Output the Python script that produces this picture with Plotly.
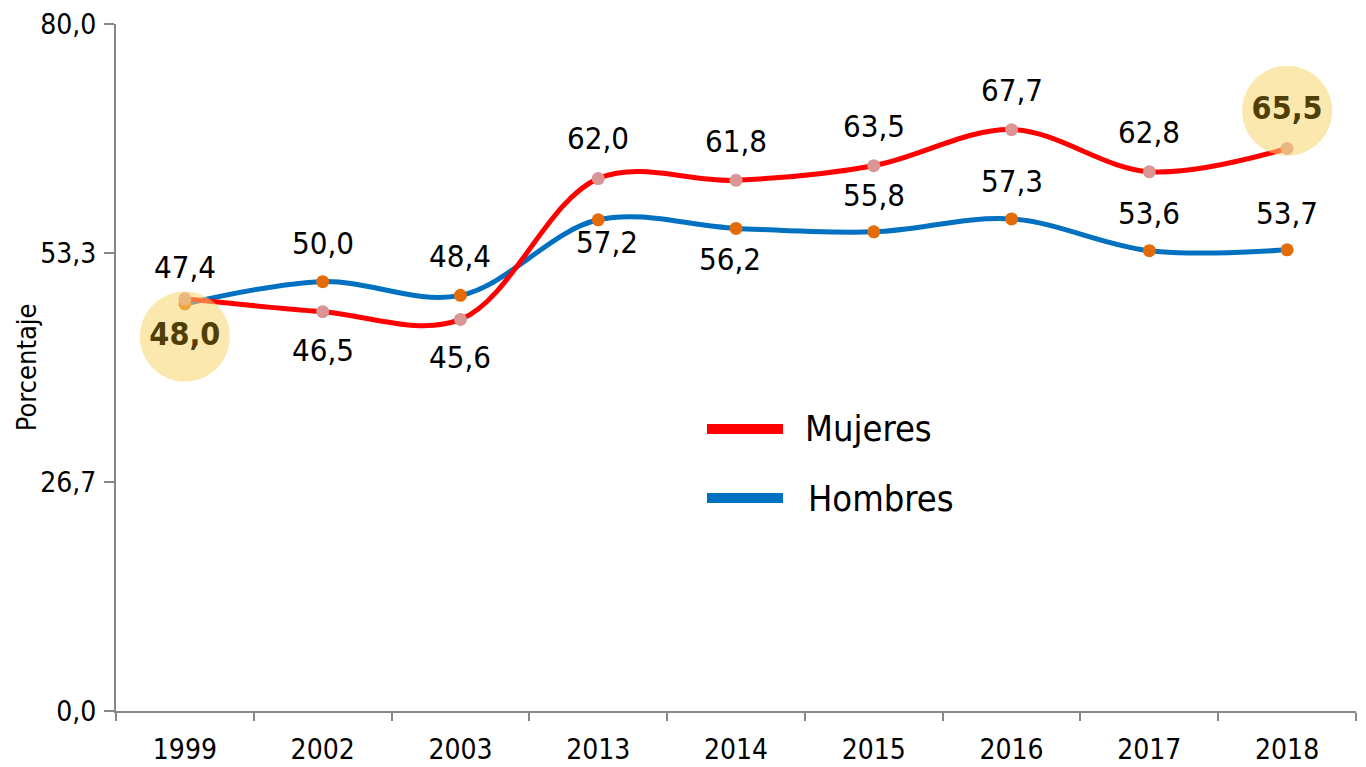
import plotly.graph_objects as go

# data
YEARS = ["1999", "2002", "2003", "2013", "2014", "2015", "2016", "2017", "2018"]
MUJERES = [48.0, 46.5, 45.6, 62.0, 61.8, 63.5, 67.7, 62.8, 65.5]
HOMBRES = [47.4, 50.0, 48.4, 57.2, 56.2, 55.8, 57.3, 53.6, 53.7]
Y_TICKS = [0.0, 80 / 3, 160 / 3, 80.0]
Y_TICK_TEXT = ["0,0", "26,7", "53,3", "80,0"]
HIGHLIGHT_IDX = [0, 8]  # Mujeres points shown in a yellow bubble

# style
RED = "#ff0000"
BLUE = "#0070c0"
RED_MARK = "#d99694"
BLUE_MARK = "#e36c09"
AXIS = "#868686"
BUBBLE = "rgba(248,214,110,0.55)"
BUBBLE_INK = "#4f3e06"
FONT = '"Liberation Sans Narrow", "Arial Narrow", "DejaVu Sans Condensed", sans-serif'

# label offsets in px (positive = above the point)
MUJ_SHIFT = [-40, -38, -38, 41, 39, 40, 40, 40, 42]
HOM_SHIFT = [37, 39, 39, -22, -31, 37, 38, 38, 37]
HOM_XSHIFT = [0, 0, 0, 9, -6, 0, 0, 0, 0]
BUBBLE_OFFSET = [-4.4, 4.4]  # bubble centre relative to the value, data units


def fmt(v):
    return f"{v:.1f}".replace(".", ",")


fig = go.Figure()

fig.add_trace(go.Scatter(
    x=YEARS, y=HOMBRES, mode="lines+markers", name="Hombres",
    line=dict(color=BLUE, width=5, shape="spline", smoothing=1),
    marker=dict(color=BLUE_MARK, size=13, line=dict(width=0)),
    showlegend=False,
))
fig.add_trace(go.Scatter(
    x=YEARS, y=MUJERES, mode="lines+markers", name="Mujeres",
    line=dict(color=RED, width=5, shape="spline", smoothing=1),
    marker=dict(color=RED_MARK, size=13, line=dict(width=0)),
    showlegend=False,
))

bx = [YEARS[i] for i in HIGHLIGHT_IDX]
by = [MUJERES[i] + off for i, off in zip(HIGHLIGHT_IDX, BUBBLE_OFFSET)]
fig.add_trace(go.Scatter(
    x=bx, y=by, mode="markers+text",
    marker=dict(color=BUBBLE, size=90, line=dict(width=0)),
    text=[fmt(MUJERES[i]) for i in HIGHLIGHT_IDX], textposition="middle center",
    textfont=dict(family=FONT, size=32, color=BUBBLE_INK, weight="bold"),
    showlegend=False, hoverinfo="skip",
))

# annotations on a category axis take the category index
annotations = []
for i, v in enumerate(MUJERES):
    if i in HIGHLIGHT_IDX:
        continue
    annotations.append(dict(xref="x", yref="y", x=i, y=v, text=fmt(v), showarrow=False,
                            yshift=MUJ_SHIFT[i], font=dict(family=FONT, size=31, color="#000000")))
for i, v in enumerate(HOMBRES):
    annotations.append(dict(xref="x", yref="y", x=i, y=v, text=fmt(v), showarrow=False,
                            yshift=HOM_SHIFT[i], xshift=HOM_XSHIFT[i],
                            font=dict(family=FONT, size=31, color="#000000")))

# hand-drawn legend in the middle of the plot
legend = [("Mujeres", RED, 0.4105, 0.554), ("Hombres", BLUE, 0.310, 0.5565)]
shapes = []
for name, col, ly, tx in legend:
    shapes.append(dict(type="line", xref="paper", yref="paper", x0=0.4766, x1=0.5379, y0=ly, y1=ly,
                       line=dict(color=col, width=10)))
    annotations.append(dict(xref="paper", yref="paper", x=tx, y=ly, text=name, showarrow=False,
                            xanchor="left", yanchor="middle",
                            font=dict(family=FONT, size=36, color="#000000")))

annotations.append(dict(xref="paper", yref="paper", x=-0.072, y=0.5, text="Porcentaje", textangle=-90,
                        showarrow=False, xanchor="center", yanchor="middle",
                        font=dict(family=FONT, size=27, color="#000000")))

# the page body has an 8px margin, so the figure is shrunk by that much
fig.update_layout(
    width=1358, height=759,
    paper_bgcolor="#ffffff", plot_bgcolor="#ffffff",
    margin=dict(l=108, r=10, t=16, b=56),
    font=dict(family=FONT, color="#000000", size=28),
    annotations=annotations, shapes=shapes,
    showlegend=False,
    xaxis=dict(type="category", range=[-0.5, 8.5], showgrid=False, zeroline=False,
               showline=True, linecolor=AXIS, linewidth=2, automargin=False,
               ticks="outside", tickson="boundaries", ticklen=8, tickcolor=AXIS, tickwidth=2,
               ticklabelstandoff=12,
               tickfont=dict(family=FONT, size=28, color="#000000")),
    yaxis=dict(range=[0, 80], tickvals=Y_TICKS, ticktext=Y_TICK_TEXT, showgrid=False, zeroline=False,
               showline=True, linecolor=AXIS, linewidth=2, automargin=False,
               ticks="outside", ticklen=10, tickcolor=AXIS, tickwidth=2,
               ticklabelstandoff=2, ticklabeloverflow="allow",
               tickfont=dict(family=FONT, size=28, color="#000000")),
)

fig.write_html("out.html")
